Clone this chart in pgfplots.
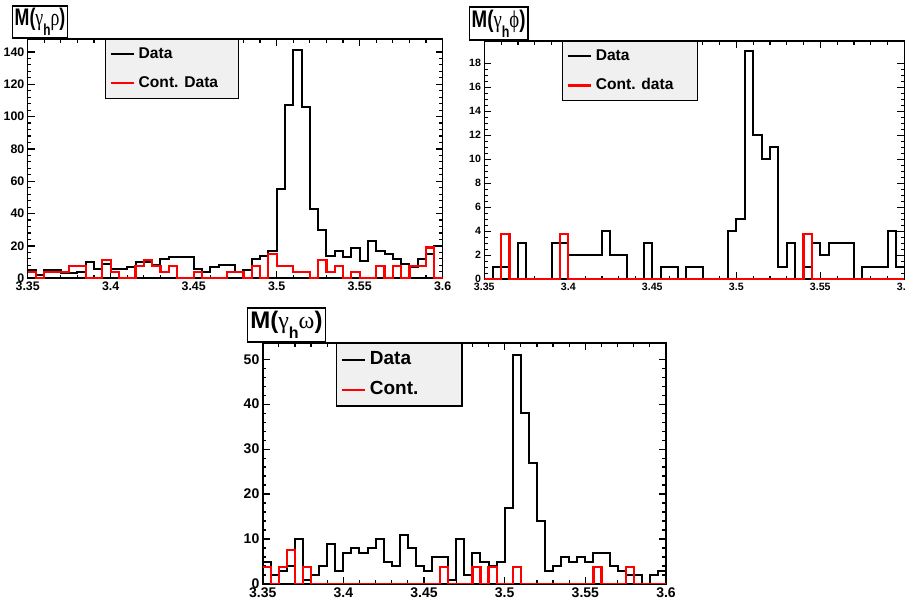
\documentclass[border=0pt]{standalone}
\usepackage{pgfplots}
\pgfplotsset{compat=1.18}
\usepackage{pgfplotstable}
\usepackage{fontspec}
\setmainfont{Liberation Sans}
\newfontfamily\grk{Liberation Serif}

\pgfplotstableread{
x d c
3.350 5 3.8
3.355 2 0
3.360 5 3.8
3.365 5 3.8
3.370 3 3.8
3.375 3 7.6
3.380 4 7.6
3.385 10 0
3.390 6 0
3.395 9 11.4
3.400 6 3.8
3.405 6 0
3.410 7 0
3.415 10 7.6
3.420 10 11.4
3.425 8 7.6
3.430 12 3.8
3.435 13 7.6
3.440 13 0
3.445 13 0
3.450 6 3.8
3.455 4 0
3.460 7 0
3.465 8 0
3.470 8 3.8
3.475 4 3.8
3.480 5 0
3.485 12 7.6
3.490 14 0
3.495 17 15.2
3.500 55 7.6
3.505 107 7.6
3.510 141 3.8
3.515 106 3.8
3.520 43 0
3.525 30 11.4
3.530 14 3.8
3.535 17 7.6
3.540 13 0
3.545 19 3.8
3.550 11 0
3.555 23 0
3.560 17 7.6
3.565 15 0
3.570 12 7.6
3.575 9 0
3.580 7 7.6
3.585 12 7.6
3.590 15 19
3.595 20 0
3.600 20 0
}\tabrho

\pgfplotstableread{
x d c
3.350 0 0
3.355 1 0
3.360 1 3.8
3.365 0 0
3.370 3 0
3.375 0 0
3.380 0 0
3.385 0 0
3.390 3 0
3.395 3 3.8
3.400 2 0
3.405 2 0
3.410 2 0
3.415 2 0
3.420 4 0
3.425 2 0
3.430 2 0
3.435 0 0
3.440 0 0
3.445 3 0
3.450 0 0
3.455 1 0
3.460 1 0
3.465 0 0
3.470 1 0
3.475 1 0
3.480 0 0
3.485 0 0
3.490 0 0
3.495 4 0
3.500 5 0
3.505 19 0
3.510 12 0
3.515 10 0
3.520 11 0
3.525 1 0
3.530 3 0
3.535 0 0
3.540 1 3.8
3.545 3 0
3.550 2 0
3.555 3 0
3.560 3 0
3.565 3 0
3.570 0 0
3.575 1 0
3.580 1 0
3.585 1 0
3.590 4 0
3.595 1 0
3.600 1 0
}\tabphi

\pgfplotstableread{
x d c
3.350 5 3.8
3.355 2 0
3.360 3 3.8
3.365 4 7.6
3.370 10 0
3.375 1 3.8
3.380 2 0
3.385 4 0
3.390 9 0
3.395 3 0
3.400 7 0
3.405 8 0
3.410 7 0
3.415 8 0
3.420 10 0
3.425 5 0
3.430 4 0
3.435 11 0
3.440 8 0
3.445 4 0
3.450 3 0
3.455 6 0
3.460 6 3.8
3.465 1 0
3.470 10 0
3.475 2 0
3.480 7 3.8
3.485 5 0
3.490 4 3.8
3.495 5 0
3.500 17 0
3.505 51 3.8
3.510 38 0
3.515 27 0
3.520 14 0
3.525 3 0
3.530 4 0
3.535 6 0
3.540 5 0
3.545 6 0
3.550 5 0
3.555 7 3.8
3.560 7 0
3.565 4 0
3.570 3 0
3.575 2 3.8
3.580 2 0
3.585 0 0
3.590 2 0
3.595 3 0
3.600 3 0
}\tabomega

\pgfplotsset{
  rootstyle/.style={
    scale only axis,
    xmin=3.35, xmax=3.6, ymin=0,
    xtick={3.35,3.4,3.45,3.5,3.55,3.6},
    minor x tick num=4,
    tick align=inside,
    xtick pos=both, ytick pos=both,
    xticklabel pos=lower, yticklabel pos=left,
    major tick length=3.5pt, minor tick length=1.8pt,
    axis line style={line width=0.8pt},
    every tick/.style={black, line width=0.6pt},
    /pgf/number format/assume math mode=true,
    xticklabel style={inner sep=1.5pt},
    yticklabel style={inner sep=1.5pt},
    legend cell align=left,
    legend image code/.code={\draw[##1] (0pt,0pt) -- (11.5pt,0pt);},
    every axis title/.style={anchor=south west, draw=black, fill=white,
      line width=0.8pt, inner xsep=1.5pt, inner ysep=1pt,
      font=\bfseries\fontsize{12}{12}\selectfont},
  },
  hdata/.style={black, line width=1pt, const plot mark left},
  hcont/.style={red, line width=1.1pt, const plot mark left},
}

\newcommand{\ttl}[1]{M({\grk\mdseries γ}\raisebox{-0.8ex}{\fontsize{8}{8}\selectfont h}{\grk\mdseries #1})}

\begin{document}
\begin{tikzpicture}
\useasboundingbox (0,0) rectangle (453pt,-301.5pt);

% ---- rho ----
\begin{axis}[rootstyle,
  at={(13.85pt,-139.15pt)}, anchor=south west,
  width=207.5pt, height=119.65pt,
  ymax=148, ytick={0,20,...,140}, minor y tick num=4,
  tick label style={font=\bfseries\fontsize{6.2}{7}\selectfont},
  title={\ttl{ρ}},
  title style={at={(-0.038,1)}, minimum height=16pt, xscale=0.74},
  legend style={at={(0.186,1)}, anchor=north west, fill=gray!12, draw=black,
    line width=0.6pt, font=\bfseries\fontsize{7.8}{8}\selectfont,
    inner xsep=2pt, inner ysep=2pt, row sep=3.5pt},
]
\addplot[hdata] table[x=x,y=d] \tabrho;
\addlegendentry{\makebox[46pt][l]{Data}}
\addplot[hcont] table[x=x,y=c] \tabrho;
\addlegendentry{\makebox[46pt][l]{Cont. Data}}
\end{axis}

% ---- phi ----
\begin{axis}[rootstyle,
  at={(242.15pt,-139.65pt)}, anchor=south west,
  width=210pt, height=119.15pt,
  ymax=19.85, ytick={0,2,...,18}, minor y tick num=3,
  tick label style={font=\bfseries\fontsize{5.3}{6}\selectfont},
  title={\ttl{ϕ}},
  title style={at={(-0.037,1)}, minimum height=16.5pt, xscale=0.78},
  legend style={at={(0.185,1)}, anchor=north west, fill=gray!12, draw=black,
    line width=0.6pt, font=\bfseries\fontsize{7.8}{8}\selectfont,
    inner xsep=2pt, inner ysep=2pt, row sep=3.5pt},
]
\addplot[hdata] table[x=x,y=d] \tabphi;
\addlegendentry{\makebox[47pt][l]{Data}}
\addplot[hcont] table[x=x,y=c] \tabphi;
\addlegendentry{\makebox[47pt][l]{Cont. data}}
\end{axis}

% ---- omega ----
\begin{axis}[rootstyle,
  at={(131.35pt,-292pt)}, anchor=south west,
  width=201.65pt, height=120.5pt,
  ymax=53.6, ytick={0,10,...,50}, minor y tick num=4,
  tick label style={font=\bfseries\fontsize{7}{8}\selectfont},
  title={\ttl{ω}},
  title style={at={(-0.04,1)}, minimum height=17pt},
  legend style={at={(0.182,1)}, anchor=north west, fill=gray!12, draw=black,
    line width=0.6pt, font=\bfseries\fontsize{9.5}{10}\selectfont,
    inner xsep=2pt, inner ysep=2pt, row sep=3pt},
]
\addplot[hdata] table[x=x,y=d] \tabomega;
\addlegendentry{\makebox[42pt][l]{Data}}
\addplot[hcont] table[x=x,y=c] \tabomega;
\addlegendentry{\makebox[42pt][l]{Cont.}}
\end{axis}
\end{tikzpicture}
\end{document}
